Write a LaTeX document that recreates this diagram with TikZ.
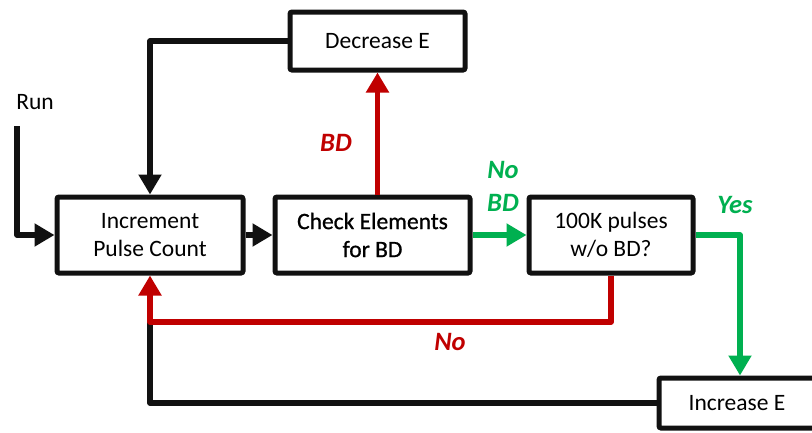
\documentclass[tikz,border=0pt]{standalone}
\usepackage{fontspec}
\setmainfont{Carlito}
\newfontfamily\semibf[FakeBold=0.9]{Carlito}
\usetikzlibrary{arrows.meta,calc}
\definecolor{myred}{HTML}{C00000}
\definecolor{mygreen}{HTML}{00B050}
\definecolor{myblack}{HTML}{111111}
\tikzset{
  box/.style={draw=myblack, line width=5pt, rounded corners=2pt, fill=white, inner sep=0pt,
    align=center, font=\fontsize{23.5}{28}\selectfont},
  conn/.style={line width=5.5pt, line join=round, -{Triangle[length=20pt,width=22pt]}},
  plain/.style={line width=5.5pt, line join=round},
  lbl/.style={font=\fontsize{26.5}{32}\selectfont\bfseries\itshape, align=center}
}
\begin{document}
\begin{tikzpicture}[x=1pt,y=-1pt]
\useasboundingbox (0,0) rectangle (812,432);
\clip (0,0) rectangle (812,432);
% nodes
\node[box, minimum width=186pt, minimum height=76pt] (inc) at (150,235) {Increment\\Pulse Count};
\node[box, minimum width=195pt, minimum height=76pt, font=\fontsize{23.5}{28}\semibf] (chk) at (372.5,235) {Check Elements\\for BD};
\node[box, minimum width=175pt, minimum height=58pt] (dec) at (377.5,41) {Decrease E};
\node[box, minimum width=164pt, minimum height=76pt] (hk) at (611,235) {100K pulses\\w/o BD?};
\node[box, minimum width=156pt, minimum height=50pt] (ince) at (737,403) {Increase E};
\node[font=\fontsize{23.5}{28}\selectfont] (run) at (35,102) {Run};
% coordinates
\coordinate (runstart) at (17,126);
\coordinate (turnG) at (740,235);
\coordinate (redY) at (0,322);
% black connectors
\draw[conn, myblack] (runstart) |- (inc.west);
\draw[conn, myblack] (dec.west) -| (inc.north);
\draw[conn, myblack] (inc.east) -- (chk.west);
\draw[plain, myblack] (ince.west) -| (inc.south |- redY);
% red connectors
\draw[conn, myred] (dec.south |- chk.north) -- (dec.south);
\draw[conn, myred] (hk.south) |- (inc.south |- redY) -- (inc.south);
% green connectors
\draw[conn, mygreen] (chk.east) -- (hk.west);
\draw[conn, mygreen] (hk.east |- turnG) -- (turnG) -- (turnG |- ince.north);
% labels
\node[lbl, text=myred] (lbd) at (336,143) {BD};
\node[lbl, text=mygreen, font=\fontsize{26.5}{33}\selectfont\bfseries\itshape] (lnobd) at (503,186) {No\\BD};
\node[lbl, text=mygreen] (lyes) at (735,205) {Yes};
\node[lbl, text=myred] (lno) at (450,342) {No};
\end{tikzpicture}
\end{document}
